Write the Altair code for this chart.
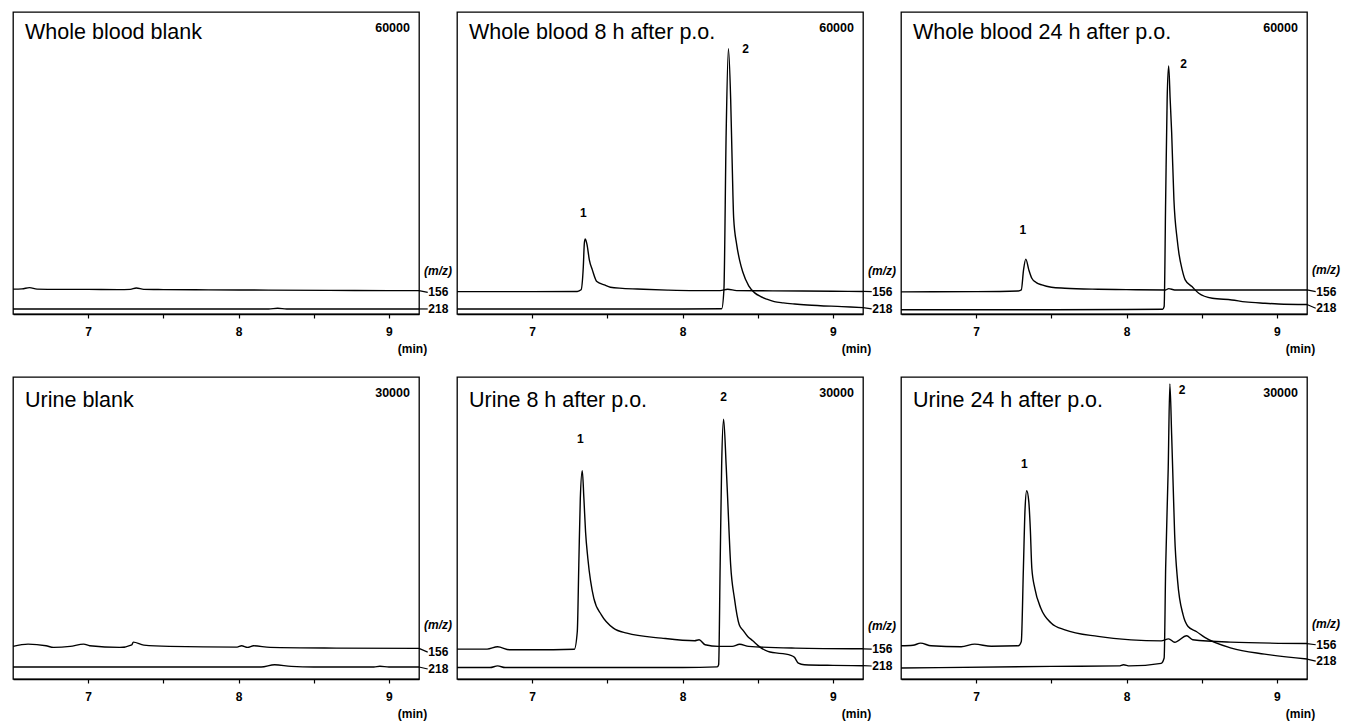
import altair as alt
import pandas as pd

FONT = "Liberation Sans"

titles = ["Whole blood blank", "Whole blood 8 h after p.o.", "Whole blood 24 h after p.o.",
          "Urine blank", "Urine 8 h after p.o.", "Urine 24 h after p.o."]
full_scale = [60000, 60000, 60000, 30000, 30000, 30000]
tick_values = [7, 7.5, 8, 8.5, 9]

# ---- Whole blood blank ----
wbb156_t = [6.5, 6.56, 6.61, 6.66, 6.8, 7.0, 7.2, 7.28, 7.32, 7.37, 7.5, 7.8, 8.2, 8.6, 9.0, 9.2]
wbb156_i = [4950, 5000, 5250, 4950, 4900, 4900, 4850, 4900, 5180, 4900, 4850, 4800, 4750, 4700, 4650, 4650]
wbb218_t = [6.5, 7.5, 8.2, 8.26, 8.32, 9.2]
wbb218_i = [1000, 1000, 1000, 1150, 1000, 1000]

# ---- Whole blood 8 h ----
wb8156_t = [6.5, 7.0, 7.3, 7.325, 7.34, 7.347, 7.353, 7.365, 7.38, 7.40, 7.43, 7.48, 7.52, 7.6, 7.74,
            7.9, 8.08, 8.25, 8.30, 8.36, 8.6, 9.0, 9.2]
wb8156_i = [4450, 4450, 4480, 4800, 9400, 14100, 14900, 13750, 10760, 8770, 6440, 5780, 5320, 5100, 4920,
            4750, 4650, 4650, 4920, 4650, 4600, 4520, 4480]
wb8218_t = [6.5, 7.5, 8.0, 8.26, 8.275, 8.29, 8.305, 8.32, 8.33, 8.34, 8.36, 8.38, 8.40, 8.44, 8.48,
            8.52, 8.56, 8.61, 8.67, 8.745, 8.83, 9.06, 9.2]
wb8218_i = [1000, 1000, 1000, 1050, 4780, 36000, 52700, 42600, 30000, 19000, 13800, 10600, 8400, 5600, 4200,
            3450, 2950, 2450, 2200, 1990, 1800, 1460, 1260]

# ---- Whole blood 24 h ----
wb24156_t = [6.5, 7.0, 7.28, 7.30, 7.315, 7.33, 7.35, 7.37, 7.40, 7.437, 7.50, 7.59, 7.81, 8.0, 8.26,
             8.28, 8.32, 8.6, 9.0, 9.2]
wb24156_i = [4400, 4450, 4580, 4780, 8770, 10900, 8770, 7110, 6240, 5780, 5320, 5120, 4920, 4850, 4780,
             5050, 4780, 4780, 4780, 4780]
wb24218_t = [6.5, 7.5, 8.0, 8.24, 8.25, 8.26, 8.27, 8.28, 8.29, 8.30, 8.315, 8.337, 8.348, 8.37, 8.39,
             8.435, 8.48, 8.57, 8.70, 8.79, 8.92, 9.01, 9.2]
wb24218_i = [850, 850, 900, 950, 1500, 22700, 42650, 49300, 42650, 36000, 22700, 14750, 12100, 8770, 6780,
             5440, 4125, 3130, 2790, 2400, 2130, 1990, 1880]

# ---- Urine blank ----
ub156_t = [6.5, 6.6, 6.72, 6.77, 6.88, 6.97, 7.01, 7.21, 7.29, 7.30, 7.37, 7.54, 7.99, 8.02, 8.06, 8.10,
           8.21, 8.65, 9.2]
ub156_i = [3240, 3465, 3300, 3140, 3240, 3465, 3300, 3140, 3400, 3660, 3370, 3240, 3170, 3300, 3140, 3300,
           3140, 3070, 3040]
ub218_t = [6.5, 8.15, 8.24, 8.35, 8.5, 8.9, 8.94, 9.0, 9.2]
ub218_i = [1190, 1190, 1420, 1250, 1190, 1190, 1260, 1190, 1190]

# ---- Urine 8 h ----
u8156_t = [6.5, 6.7, 6.77, 6.85, 7.0, 7.28, 7.30, 7.31, 7.32, 7.333, 7.344, 7.355, 7.37, 7.41, 7.46, 7.54,
           7.63, 7.86, 8.08, 8.11, 8.15, 8.24, 8.33, 8.38, 8.44, 8.75, 9.2]
u8156_i = [2970, 2970, 3200, 2900, 2900, 2950, 4720, 11300, 17900, 20700, 17900, 14600, 12000, 8000, 6370,
           5050, 4550, 4060, 3800, 3900, 3400, 3240, 3240, 3450, 3240, 3070, 3000]
u8218_t = [6.5, 6.72, 6.77, 6.82, 7.5, 8.0, 8.23, 8.24, 8.25, 8.26, 8.273, 8.29, 8.30, 8.32, 8.345, 8.377,
           8.40, 8.433, 8.467, 8.50, 8.567, 8.72, 8.744, 8.77, 8.81, 9.0, 9.2]
u8218_i = [1140, 1140, 1300, 1140, 1140, 1140, 1200, 1420, 11300, 21200, 25800, 21200, 17900, 11300, 8000,
           5380, 4880, 4230, 3800, 3340, 2740, 2350, 2150, 1580, 1420, 1350, 1320]

# ---- Urine 24 h ----
u24156_t = [6.5, 6.58, 6.63, 6.7, 6.9, 6.99, 7.1, 7.28, 7.30, 7.314, 7.325, 7.336, 7.35, 7.36, 7.37, 7.39,
            7.43, 7.50, 7.59, 7.81, 8.03, 8.23, 8.28, 8.32, 8.40, 8.44, 8.69, 9.2]
u24156_i = [3300, 3350, 3560, 3300, 3200, 3465, 3250, 3300, 3730, 11000, 16900, 18700, 17600, 14900, 11000,
            9000, 7030, 5540, 4880, 4230, 3890, 3790, 3990, 3650, 4300, 3900, 3660, 3520]
u24218_t = [6.5, 7.5, 7.95, 7.98, 8.02, 8.23, 8.25, 8.26, 8.277, 8.288, 8.30, 8.31, 8.32, 8.34, 8.376,
            8.409, 8.464, 8.52, 8.697, 8.918, 9.2]
u24218_i = [1090, 1250, 1300, 1420, 1300, 1550, 2080, 11000, 20900, 29300, 24200, 19200, 14300, 9670, 6370,
            5220, 4720, 4130, 3070, 2475, 1980]

traces = [
    (wbb156_t, wbb156_i, wbb218_t, wbb218_i),
    (wb8156_t, wb8156_i, wb8218_t, wb8218_i),
    (wb24156_t, wb24156_i, wb24218_t, wb24218_i),
    (ub156_t, ub156_i, ub218_t, ub218_i),
    (u8156_t, u8156_i, u8218_t, u8218_i),
    (u24156_t, u24156_i, u24218_t, u24218_i),
]

# right-hand m/z labels: (m/z) level, 156 label level, 218 label level
mz_label_y = [8600, 8600, 8700, 5380, 5300, 5450]
lab156_y = [4300, 4450, 4450, 2670, 2970, 3400]
lab218_y = [1000, 1000, 1150, 990, 1290, 1780]

# peak number labels per panel
peak_t = [[], [7.34, 8.42], [7.31, 8.38], [], [7.32, 8.273], [7.32, 8.37]]
peak_i = [[], [20100, 52600], [16700, 49600], [], [23800, 28000], [21400, 28700]]
peak_txt = [[], ["1", "2"], ["1", "2"], [], ["1", "2"], ["1", "2"]]

xscale = alt.Scale(domain=[6.5, 9.2], nice=False, zero=False)
xaxis = alt.Axis(
    values=tick_values,
    labelExpr="datum.value % 1 === 0 ? format(datum.value, 'd') : ''",
    grid=False, tickSize=4, tickColor="black", tickWidth=1.2,
    domainColor="black", domainWidth=1.5,
    labelFont=FONT, labelFontSize=12, labelFontWeight="bold", labelColor="black",
    labelBaseline="middle", labelPadding=13.5, labelFlush=False, labelOverlap=False,
    title="(min)", titleFont=FONT, titleFontSize=12, titleFontWeight="bold", titleColor="black",
    titleX=399, titleY=34, titleAlign="center", titleBaseline="middle",
)


def panel(k):
    fs = full_scale[k]
    t156, i156, t218, i218 = traces[k]
    x = alt.X("t:Q", scale=xscale, axis=xaxis)
    y = alt.Y("i:Q", scale=alt.Scale(domain=[0, fs], nice=False, zero=False), axis=None)

    tr = pd.DataFrame({"t": t156 + t218, "i": i156 + i218,
                       "mz": ["156"] * len(t156) + ["218"] * len(t218)})
    lines = alt.Chart(tr).mark_line(color="black", strokeWidth=1.4, strokeJoin="round",
                                    interpolate="monotone").encode(x=x, y=y, detail="mz:N")

    conn = pd.DataFrame({"t": [9.2, 9.258, 9.2, 9.258],
                         "i": [i156[-1], lab156_y[k], i218[-1], lab218_y[k]],
                         "mz": ["156", "156", "218", "218"]})
    connectors = alt.Chart(conn).mark_line(color="black", strokeWidth=1.2).encode(
        x=x, y=y, detail="mz:N")

    labs = pd.DataFrame({"t": [9.262, 9.262], "i": [lab156_y[k], lab218_y[k]], "txt": ["156", "218"]})
    mzlabels = alt.Chart(labs).mark_text(align="left", baseline="middle", font=FONT, fontSize=12,
                                         fontWeight="bold", color="black").encode(x=x, y=y, text="txt:N")

    mzt = pd.DataFrame({"t": [9.233], "i": [mz_label_y[k]], "txt": ["(m/z)"]})
    mztitle = alt.Chart(mzt).mark_text(align="left", baseline="middle", font=FONT, fontSize=12,
                                       fontStyle="italic", fontWeight="bold", color="black").encode(
        x=x, y=y, text="txt:N")

    ttl = pd.DataFrame({"t": [6.58], "i": [fs * (0.911 if fs == 60000 else 0.901)], "txt": [titles[k]]})
    title = alt.Chart(ttl).mark_text(align="left", baseline="alphabetic", font=FONT, fontSize=21.5,
                                     color="black").encode(x=x, y=y, text="txt:N")

    sc = pd.DataFrame({"t": [9.14], "i": [fs * 0.935], "txt": [str(fs)]})
    scale_lab = alt.Chart(sc).mark_text(align="right", baseline="alphabetic", font=FONT, fontSize=12.5,
                                        fontWeight="bold", color="black").encode(x=x, y=y, text="txt:N")

    layers = [lines, connectors, mzlabels, mztitle, title, scale_lab]
    if peak_t[k]:
        pk = pd.DataFrame({"t": peak_t[k], "i": peak_i[k], "txt": peak_txt[k]})
        layers.append(alt.Chart(pk).mark_text(align="center", baseline="middle", font=FONT, fontSize=12,
                                              fontWeight="bold", color="black").encode(x=x, y=y, text="txt:N"))
    return alt.layer(*layers).properties(width=406, height=302)


chart = alt.concat(
    *[panel(k) for k in range(6)],
    columns=3,
    spacing={"row": 63, "column": 38},
    bounds="flush",
).properties(
    padding={"left": 11, "top": 11, "right": 2, "bottom": 2},
    background="white",
).configure_view(stroke="black", strokeWidth=1.3)

chart.save("out.html", embed_options={"renderer": "svg", "actions": False})
